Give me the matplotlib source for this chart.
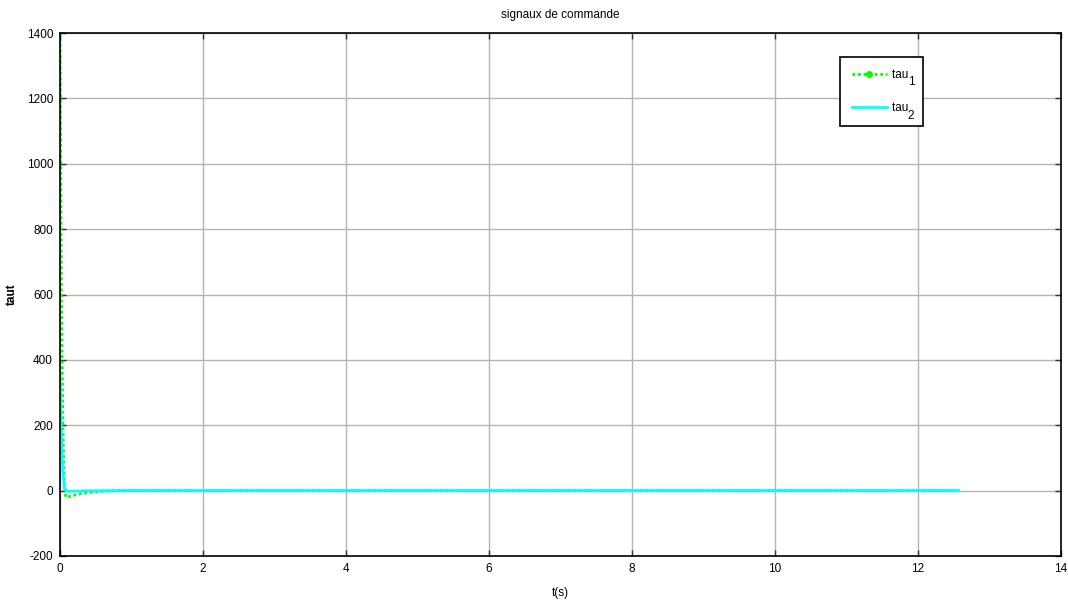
import numpy as np
import matplotlib.pyplot as plt
from matplotlib.lines import Line2D

plt.rcParams['font.family'] = ['Liberation Sans', 'DejaVu Sans']
plt.rcParams['axes.unicode_minus'] = False

# tau1 (green dotted) samples
t1 = [0.0, 0.01, 0.02, 0.04, 0.06, 0.08, 0.12, 0.2, 0.3, 0.45, 0.6, 0.8, 1.0, 12.566]
tau1 = [1400, 1000, 600, 200, 20, -20, -19, -14, -9, -5, -2, -0.5, 0, 0]

# tau2 (cyan) samples
t2 = [0.0, 0.01, 0.02, 0.04, 0.06, 0.08, 0.12, 0.2, 0.4, 1.0, 12.566]
tau2 = [350, 250, 160, 60, 10, 0, -2, -1.5, -0.5, 0, 0]

labels = ['tau', 'tau']
subs = ['1', '2']

fig = plt.figure(figsize=(10.68, 6.07), dpi=100)
ax = fig.add_axes([60 / 1068, 1 - 556 / 607, 1001 / 1068, 523 / 607])

ax.plot(t1, tau1, color='#00ff00', linestyle=(0, (1, 1)), linewidth=2)
ax.plot(t2, tau2, color='#00ffff', linewidth=2)

ax.set_xlim(0, 14)
ax.set_ylim(-200, 1400)
ax.set_xticks(np.arange(0, 15, 2))
ax.set_yticks(np.arange(-200, 1401, 200))
ax.grid(True, color='#b4b4b4', linewidth=1)
ax.set_axisbelow(True)
ax.tick_params(direction='in', length=4, top=True, right=True, labelsize=8.5,
               width=1, color='#333333', pad=5)
for s in ax.spines.values():
    s.set_linewidth(1.2)

ax.set_title('signaux de commande', fontsize=8.5, pad=11)
ax.set_xlabel('t(s)', fontsize=8.5, labelpad=9)
ax.set_ylabel('taut', fontsize=8.5, fontweight='bold')
ax.yaxis.set_label_coords(-0.042, 0.5)

handles = [
    Line2D([], [], color='#00ff00', linestyle=(0, (1, 1)), linewidth=2,
           marker='.', markersize=8),
    Line2D([], [], color='#00ffff', linewidth=2),
]
# a trailing space keeps room for the subscripts drawn below
leg = ax.legend(handles, [l + ' ' for l in labels], loc='upper left',
                bbox_to_anchor=(0.779, 0.954), borderaxespad=0, fontsize=8.5,
                frameon=True, fancybox=False, edgecolor='black', framealpha=1,
                handlelength=3.0, borderpad=1.0, labelspacing=1.8,
                handletextpad=0.4)
leg.get_frame().set_linewidth(1.2)

fig.canvas.draw()
for txt, s in zip(leg.get_texts(), subs):
    bb = txt.get_window_extent()
    ax.annotate(s, xy=(bb.x0 + 16, bb.y0), xycoords='figure pixels',
                xytext=(0, -1), textcoords='offset points',
                fontsize=8.5, ha='left', va='center', zorder=10)

fig.savefig('out.png', dpi=100, facecolor='white')
